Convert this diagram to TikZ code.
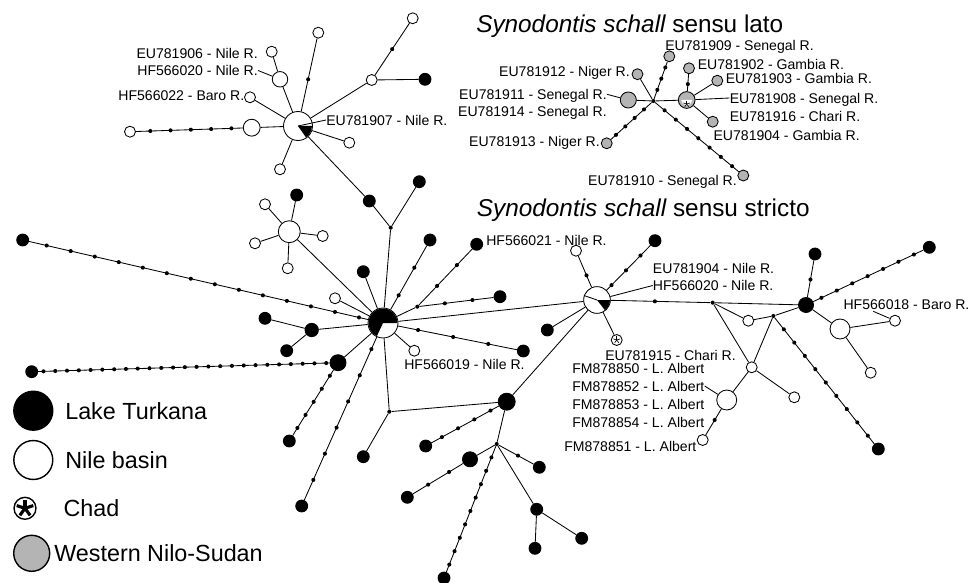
\documentclass[tikz,border=0pt]{standalone}
\usepackage{fontspec}
\setmainfont{Liberation Sans}
\usepackage{tikz}
\usetikzlibrary{calc}
\definecolor{wnsgray}{RGB}{180,180,180}
\tikzset{
  hap/.style={circle, draw=black, fill=white, line width=0.6pt,
    inner sep=0pt, minimum size=7.8pt},
  turk/.style={hap, fill=black, minimum size=8.5pt},
  wns/.style={hap, fill=wnsgray},
  med/.style={circle, fill=black, inner sep=0pt, minimum size=2.9pt},
  link/.style={line width=0.6pt, color=black},
  lbl/.style={font=\fontsize{10}{12}\selectfont, inner sep=0pt,
    text height=7.2pt, text depth=0pt},
  ttl/.style={font=\fontsize{17.3}{21}\selectfont, inner sep=0pt,
    text height=12.4pt, text depth=0pt, anchor=west},
  keytext/.style={font=\fontsize{16.6}{20}\selectfont, inner sep=0pt,
    text height=11.9pt, text depth=0pt, anchor=west},
  keycirc/.style={hap, line width=1pt}
}
% line between two haplotypes with n median vectors on it
\newcommand{\medchain}[3]{%
  \draw[link] (#1) -- (#2);
  \foreach \k in {1,...,#3}
    \node[med] (#1-#2-\k) at ($(#1)!{\k/(#3+1)}!(#2)$) {};
}
% five-armed asterisk for the Chad haplotypes
\newcommand{\chadstar}[3]{%
  \foreach \a in {18,90,162,234,306}
    \draw[line width=#3] (#1) -- +(\a:#2);
}

\begin{document}
\begin{tikzpicture}[x=0.025cm, y=-0.025cm]
  \useasboundingbox (0,0) rectangle (972,583);

  % Titles
  \node[ttl] (ttllato) at (476,23.3) {\itshape Synodontis schall\upshape\ sensu lato};
  \node[ttl] (ttlstricto) at (476.7,208) {\itshape Synodontis schall\upshape\ sensu stricto};

  % Nile cluster (top left)
  \node[hap, minimum size=20.6pt] (n0) at (298,126) {};
  \fill (n0.center) -- +(0:9.9pt) arc[start angle=0, end angle=-55, radius=9.9pt] -- cycle;
  \node[hap, minimum size=12pt] (n1) at (251.7,127.7) {};
  \node[hap] (n2) at (130,131.7) {};
  \medchain{n1}{n2}{5}
  \draw[link] (n0) -- (n1);
  \node[hap, minimum size=11pt] (n3) at (280,79.3) {};
  \node[hap] (n4) at (271.7,51.7) {};
  \draw[link] (n4) -- (n3);
  \draw[link] (n3) -- (n0);
  \node[hap] (n5) at (250,97.3) {};
  \draw[link] (n5) -- (n0);
  \node[hap] (n6) at (318.3,32.7) {};
  \medchain{n6}{n0}{1}
  \node[hap] (n7) at (412.7,18.3) {};
  \node[hap] (n8) at (371.7,80) {};
  \medchain{n7}{n8}{1}
  \draw[link] (n8) -- (n0);
  \node[turk] (n9) at (425,79.3) {};
  \draw[link] (n8) -- (n9);
  \node[hap] (n10) at (349.3,142.7) {};
  \draw[link] (n10) -- (n0);
  \node[hap] (n11) at (280,169.3) {};
  \draw[link] (n11) -- (n0);
  \node[lbl, anchor=east] (l1) at (258,53.3) {EU781906 - Nile R.};
  \node[lbl, anchor=east] (l2) at (258,70.5) {HF566020 - Nile R.};
  \draw[link] (l2.east) -- (n3);
  \node[lbl, anchor=east] (l3) at (244.5,95.7) {HF566022 - Baro R.};
  \node[lbl, anchor=west] (l4) at (326,120) {EU781907 - Nile R.};
  \draw[link] (l4.west) -- (n0.center);

  % Western Nilo-Sudan cluster (top right)
  \node[med] (w0) at (653.3,101) {};
  \node[wns, minimum size=11.4pt] (w1) at (628.3,100) {};
  \draw[link] (w1) -- (w0);
  \node[wns, minimum size=11.9pt] (g0) at (686.7,100) {};
  \fill[white] (g0.center) -- +(0:3.9pt) arc[start angle=0, end angle=-180, radius=3.9pt] -- cycle;
  \chadstar{$(g0.center)+(0,4)$}{2.4pt}{0.45pt}
  \draw[link] (w0) -- (g0);
  \node[wns] (w2) at (637.5,74.2) {};
  \draw[link] (w2) -- (w0);
  \node[wns] (w3) at (669.3,56.3) {};
  \medchain{w0}{w3}{3}
  \node[wns] (w4) at (606.7,143.3) {};
  \medchain{w0}{w4}{4}
  \node[wns] (w5) at (743.3,175.5) {};
  \medchain{w0}{w5}{7}
  \node[wns] (w6) at (689,68.3) {};
  \medchain{g0}{w6}{1}
  \node[wns] (w7) at (717.3,80.7) {};
  \draw[link] (g0) -- (w7);
  \node[wns] (w8) at (712.7,121.7) {};
  \draw[link] (g0) -- (w8);
  \node[lbl, anchor=west] (l5) at (665,45) {EU781909 - Senegal R.};
  \node[lbl, anchor=west] (l6) at (697.5,64) {EU781902 - Gambia R.};
  \node[lbl, anchor=west] (l7) at (725.5,78) {EU781903 - Gambia R.};
  \node[lbl, anchor=west] (l8) at (729.5,98) {EU781908 - Senegal R.};
  \draw[link] (g0) -- (l8.west);
  \node[lbl, anchor=west] (l9) at (729.5,116.5) {EU781916 - Chari R.};
  \node[lbl, anchor=west] (l10) at (713.3,135.8) {EU781904 - Gambia R.};
  \node[lbl, anchor=east] (l11) at (630,71.7) {EU781912 - Niger R.};
  \node[lbl, anchor=east] (l12) at (607,94.3) {EU781911 - Senegal R.};
  \draw[link] (l12.east) -- (w1);
  \node[lbl, anchor=east] (l13) at (607,111.7) {EU781914 - Senegal R.};
  \node[lbl, anchor=east] (l14) at (600,141.7) {EU781913 - Niger R.};
  \node[lbl, anchor=east] (l15) at (737,180) {EU781910 - Senegal R.};

  % Main hub (left)
  \node[hap, minimum size=21.3pt] (a0) at (383,323) {};
  \fill (a0.center) -- +(0:10.3pt) arc[start angle=0, end angle=245, radius=10.3pt] -- cycle;
  \node[med] (m1) at (390.7,227.7) {};
  \draw[link] (a0) -- (m1);
  \node[turk] (t1) at (369.3,201) {};
  \draw[link] (m1) -- (t1);
  \draw[link] (t1) -- (n0);
  \node[turk] (t2) at (419.3,181.7) {};
  \draw[link] (m1) -- (t2);
  % satellite star
  \node[hap, minimum size=15.6pt] (s0) at (289.3,231.7) {};
  \draw[link] (s0) -- (a0);
  \node[turk] (s1) at (296.7,195) {};
  \node[hap] (s2) at (265,204.3) {};
  \node[hap] (s3) at (322.7,236) {};
  \node[hap] (s4) at (255,243.3) {};
  \node[hap] (s5) at (287.7,268.3) {};
  \foreach \s in {s1,s2,s3,s4,s5}
    \draw[link] (s0) -- (\s);
  \node[turk] (t3) at (363.3,271.7) {};
  \draw[link] (t3) -- (a0);
  \node[hap] (n12) at (335,298.3) {};
  \draw[link] (n12) -- (a0);
  \node[turk] (t4) at (22.7,240) {};
  \medchain{t4}{a0}{14}
  \node[turk, minimum size=9.5pt] (t5) at (311.7,330) {};
  \draw[link] (t5) -- (a0);
  \node[turk] (t6) at (265,318.3) {};
  \draw[link] (t5) -- (t6);
  \node[turk] (t7) at (286.7,350.7) {};
  \draw[link] (t5) -- (t7);
  \node[turk, minimum size=11.4pt] (t8) at (338,362.7) {};
  \draw[link] (t8) -- (a0);
  \node[turk] (t9) at (31.7,371.7) {};
  \medchain{t9}{t8}{25}
  \node[turk] (t10) at (289.3,441) {};
  \medchain{t8}{t10}{5}
  \node[turk] (t11) at (301.7,506) {};
  \medchain{a0}{t11}{6}
  \node[med] (m2) at (389.3,411.7) {};
  \draw[link] (a0) -- (m2);
  \node[turk] (t12) at (363.3,456.7) {};
  \draw[link] (m2) -- (t12);
  \node[turk] (t13) at (430,240) {};
  \medchain{a0}{t13}{2}
  \node[med] (m3) at (417.3,306.7) {};
  \draw[link] (a0) -- (m3);
  \node[turk] (t14) at (476.7,244.3) {};
  \medchain{m3}{t14}{2}
  \node[turk] (t15) at (500,296.7) {};
  \medchain{m3}{t15}{2}
  \node[turk] (t16) at (523.3,351) {};
  \medchain{a0}{t16}{3}
  \node[hap] (n13) at (414.3,350.7) {};
  \draw[link] (n13) -- (a0);
  \node[lbl, anchor=west] (l16) at (404,364.3) {HF566019 - Nile R.};

  % Lower branch
  \node[turk, minimum size=12.1pt] (c0) at (506.7,401.7) {};
  \draw[link] (m2) -- (c0);
  \node[turk] (t17) at (425.7,446) {};
  \medchain{c0}{t17}{4}
  \node[med] (m4) at (496.7,444) {};
  \draw[link] (c0) -- (m4);
  \node[turk, minimum size=10.7pt] (t18) at (470,459.3) {};
  \draw[link] (m4) -- (t18);
  \node[turk] (t19) at (407.3,497.3) {};
  \medchain{t18}{t19}{2}
  \node[turk] (t20) at (444,578) {};
  \medchain{m4}{t20}{9}
  \node[turk] (t21) at (539.3,467.3) {};
  \medchain{m4}{t21}{1}
  \node[turk] (t22) at (536.7,509.3) {};
  \draw[link] (m4) -- (t22);
  \node[turk] (t23) at (535,548.3) {};
  \draw[link] (t22) -- (t23);
  \node[turk] (t24) at (581.7,538.3) {};
  \draw[link] (t22) -- (t24);

  % Second hub (centre)
  \node[hap, minimum size=19pt] (b0) at (597,300) {};
  \fill (b0.center) -- +(0:9.2pt) arc[start angle=0, end angle=-52, radius=9.2pt] -- cycle;
  \draw[link] (b0.center) -- (b0.161);
  \draw[link] (a0) -- (b0);
  \draw[link] (c0) -- (b0);
  \node[hap] (n14) at (576,250.7) {};
  \medchain{n14}{b0}{1}
  \node[turk] (t25) at (655,240.7) {};
  \medchain{b0}{t25}{3}
  \node[turk] (t26) at (547.3,330) {};
  \draw[link] (b0) -- (t26);
  \node[hap] (ch1) at (616.7,340) {};
  \chadstar{ch1.center}{2.5pt}{0.45pt}
  \draw[link] (b0) -- (ch1);
  \node[lbl, anchor=west] (l17) at (486,240) {HF566021 - Nile R.};
  \node[lbl, anchor=west] (l18) at (652.7,268.3) {EU781904 - Nile R.};
  \node[lbl, anchor=west] (l19) at (652.7,285.5) {HF566020 - Nile R.};
  \draw[link] (l19.west) -- (b0);
  \node[lbl, anchor=west] (l20) at (605,355) {EU781915 - Chari R.};

  % Right part
  \node[med] (m6) at (712.7,302.7) {};
  \medchain{b0}{m6}{1}
  \node[turk, minimum size=10.7pt] (e0) at (806,305) {};
  \draw[link] (m6) -- (e0);
  \node[hap] (k0) at (751.7,367.3) {};
  \draw[link] (m6) -- (k0);
  \node[hap] (n15) at (748.3,320.7) {};
  \draw[link] (m6) -- (n15);
  \node[med] (m7) at (773.3,316) {};
  \draw[link] (n15) -- (m7);
  \draw[link] (m7) -- (e0);
  \draw[link] (m7) -- (k0);
  \node[turk] (t27) at (878.3,449) {};
  \medchain{m7}{t27}{9}
  \node[hap] (n16) at (794.3,397.3) {};
  \draw[link] (k0) -- (n16);
  \node[hap, minimum size=14.2pt] (n17) at (726.7,400) {};
  \draw[link] (k0) -- (n17);
  \node[hap] (n18) at (702.7,440) {};
  \medchain{n17}{n18}{1}
  \node[turk] (t28) at (815,254) {};
  \medchain{e0}{t28}{1}
  \node[turk] (t29) at (929.3,247.3) {};
  \medchain{e0}{t29}{7}
  \node[hap, minimum size=14.2pt] (n19) at (840,329) {};
  \draw[link] (e0) -- (n19);
  \node[hap] (n20) at (895,320.7) {};
  \draw[link] (n19) -- (n20);
  \node[hap] (n21) at (870.7,372.7) {};
  \draw[link] (n19) -- (n21);
  \node[lbl, anchor=west] (l21) at (843.3,304) {HF566018 - Baro R.};
  \draw[link] ($(l21.south west)+(30,2)$) -- (n20);
  \node[lbl, anchor=west] (l22) at (572,368.3) {FM878850 - L. Albert};
  \node[lbl, anchor=west] (l23) at (572,386) {FM878852 - L. Albert};
  \draw[link] (l23.east) -- (n17);
  \node[lbl, anchor=west] (l24) at (572,404) {FM878853 - L. Albert};
  \node[lbl, anchor=west] (l25) at (572,422.7) {FM878854 - L. Albert};
  \node[lbl, anchor=west] (l26) at (564,446.7) {FM878851 - L. Albert};

  % Legend
  \node[keycirc, fill=black, minimum size=27.7pt] (key1) at (33.3,410.7) {};
  \node[keytext] (key1t) at (65,410.7) {Lake Turkana};
  \node[keycirc, minimum size=27.7pt] (key2) at (33.3,460) {};
  \node[keytext] (key2t) at (65,460) {Nile basin};
  \node[keycirc, minimum size=15.6pt] (key3) at (25,508.3) {};
  \chadstar{key3.center}{6.2pt}{2.2pt}
  \node[keytext] (key3t) at (63.3,508.3) {Chad};
  \node[keycirc, fill=wnsgray, minimum size=25.6pt] (key4) at (31.7,553.3) {};
  \node[keytext] (key4t) at (54,553.3) {Western Nilo-Sudan};
\end{tikzpicture}
\end{document}
